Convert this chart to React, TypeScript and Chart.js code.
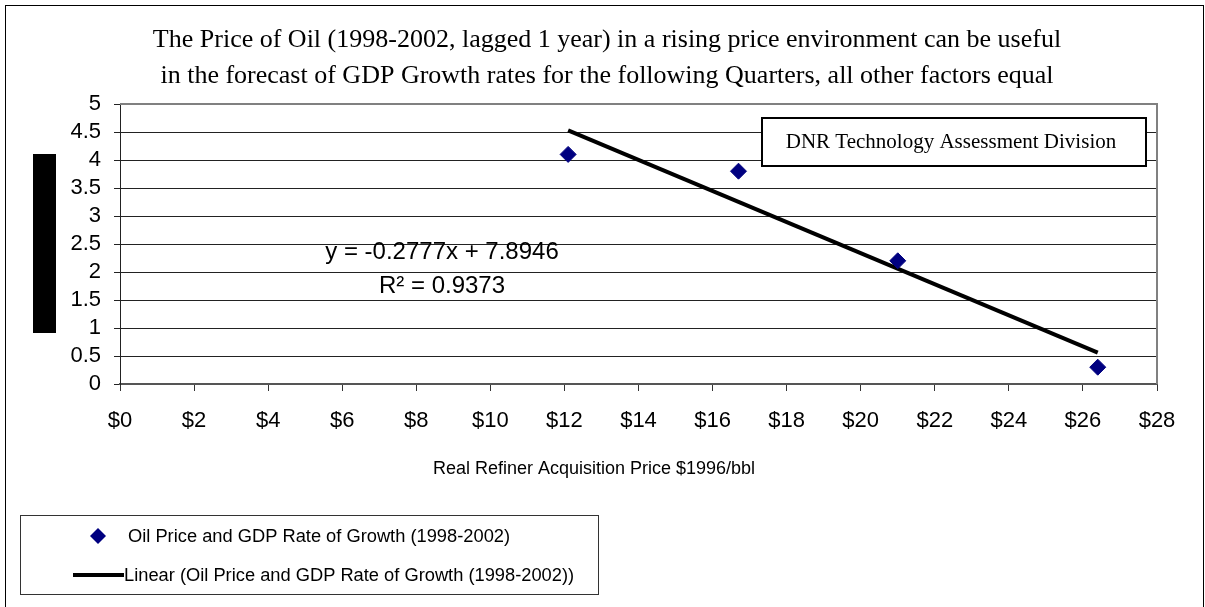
import React, { useEffect, useRef } from "react";
import { Chart, registerables } from "chart.js";

Chart.register(...registerables);

const prices = [12.1, 16.7, 21.0, 26.4];
const gdpGrowth = [4.1, 3.8, 2.2, 0.3];
const trendX = [12.1, 26.4];
const trendY = [4.53, 0.56];
const yTickLabels = ["0", "0.5", "1", "1.5", "2", "2.5", "3", "3.5", "4", "4.5", "5"];
const xTickLabels = ["$0", "$2", "$4", "$6", "$8", "$10", "$12", "$14", "$16", "$18", "$20", "$22", "$24", "$26", "$28"];
const titleLines = [
  "The Price of Oil (1998-2002, lagged 1 year) in a rising price environment can be useful",
  "in the forecast of GDP Growth rates for the following Quarters, all other factors equal",
];
const seriesLabel = "Oil Price and GDP Rate of Growth (1998-2002)";
const trendLabel = "Linear (Oil Price and GDP Rate of Growth (1998-2002))";
const equationLines = ["y = -0.2777x + 7.8946", "R\u00b2 = 0.9373"];
const xAxisTitle = "Real Refiner Acquisition Price $1996/bbl";
const noteText = "DNR Technology Assessment Division";

const SANS = "'Liberation Sans', Arial, sans-serif";
const SERIF = "'Liberation Serif', 'Times New Roman', serif";

const decorPlugin = {
  id: "decor",
  beforeDatasetsDraw(chart: any) {
    const { ctx, chartArea } = chart;
    ctx.save();
    ctx.strokeStyle = "#808080";
    ctx.lineWidth = 2;
    ctx.beginPath();
    ctx.moveTo(chartArea.left, chartArea.top);
    ctx.lineTo(chartArea.right, chartArea.top);
    ctx.lineTo(chartArea.right, chartArea.bottom);
    ctx.stroke();
    ctx.restore();
  },
  afterDraw(chart: any) {
    const { ctx } = chart;
    ctx.save();
    // outer frame
    ctx.strokeStyle = "#000";
    ctx.lineWidth = 1;
    ctx.strokeRect(5.5, 5.5, 1198, 620);
    // black bar (obscured axis title)
    ctx.fillStyle = "#000";
    ctx.fillRect(33, 154, 23, 179);
    // title
    ctx.fillStyle = "#000";
    ctx.textAlign = "center";
    ctx.textBaseline = "alphabetic";
    ctx.font = `26px ${SERIF}`;
    ctx.fillText(titleLines[0], 607, 47);
    ctx.fillText(titleLines[1], 607, 83);
    // equation
    ctx.font = `24px ${SANS}`;
    ctx.fillText(equationLines[0], 442, 259);
    ctx.fillText(equationLines[1], 442, 293);
    // x axis title
    ctx.font = `18px ${SANS}`;
    ctx.fillText(xAxisTitle, 594, 474);
    // note box
    ctx.fillStyle = "#fff";
    ctx.fillRect(762, 118, 384, 48);
    ctx.strokeStyle = "#000";
    ctx.lineWidth = 2;
    ctx.strokeRect(762, 118, 384, 48);
    ctx.fillStyle = "#000";
    ctx.font = `21px ${SERIF}`;
    ctx.fillText(noteText, 951, 148);
    // legend
    ctx.strokeStyle = "#333";
    ctx.lineWidth = 1;
    ctx.strokeRect(20.5, 515.5, 578, 79);
    ctx.fillStyle = "#000080";
    ctx.beginPath();
    ctx.moveTo(98, 528);
    ctx.lineTo(106, 536);
    ctx.lineTo(98, 544);
    ctx.lineTo(90, 536);
    ctx.closePath();
    ctx.fill();
    ctx.strokeStyle = "#000";
    ctx.lineWidth = 4;
    ctx.beginPath();
    ctx.moveTo(73, 575);
    ctx.lineTo(124, 575);
    ctx.stroke();
    ctx.fillStyle = "#000";
    ctx.textAlign = "left";
    ctx.font = `18.3px ${SANS}`;
    ctx.fillText(seriesLabel, 128, 542);
    ctx.fillText(trendLabel, 124, 581);
    ctx.restore();
  },
};

export default function App() {
  const ref = useRef<HTMLCanvasElement | null>(null);
  useEffect(() => {
    if (!ref.current) return;
    const chart = new Chart(ref.current, {
      type: "scatter",
      data: {
        datasets: [
          {
            label: seriesLabel,
            data: prices.map((p, i) => ({ x: p, y: gdpGrowth[i] })),
            pointStyle: "rectRot",
            pointRadius: 8,
            pointHoverRadius: 8,
            backgroundColor: "#000080",
            borderColor: "#000080",
            borderWidth: 1,
          },
          {
            label: trendLabel,
            data: trendX.map((x, i) => ({ x, y: trendY[i] })),
            showLine: true,
            pointRadius: 0,
            borderColor: "#000",
            borderWidth: 4,
          } as any,
        ],
      },
      plugins: [decorPlugin],
      options: {
        animation: false,
        responsive: true,
        maintainAspectRatio: false,
        layout: { padding: { top: 104, right: 48, left: 0, bottom: 0 } },
        plugins: { legend: { display: false }, tooltip: { enabled: false }, title: { display: false } },
        scales: {
          x: {
            type: "linear",
            min: 0,
            max: 28,
            afterFit: (s: any) => { s.height = 223; },
            afterBuildTicks: (s: any) => {
              s.ticks = xTickLabels.map((l) => ({ value: parseFloat(l.replace("$", "")) }));
            },
            ticks: {
              autoSkip: false,
              maxRotation: 0,
              padding: 17,
              color: "#000",
              font: { family: SANS, size: 22 },
              callback: (_v: any, i: number) => xTickLabels[i],
            },
            grid: { drawOnChartArea: false, drawTicks: true, tickLength: 7, color: "#333" },
            border: { color: "#555", width: 2 },
          },
          y: {
            type: "linear",
            min: 0,
            max: 5,
            afterFit: (s: any) => { s.width = 120; },
            afterBuildTicks: (s: any) => {
              s.ticks = yTickLabels.map((l) => ({ value: parseFloat(l) }));
            },
            ticks: {
              autoSkip: false,
              padding: 13,
              color: "#000",
              font: { family: SANS, size: 22 },
              callback: (_v: any, i: number) => yTickLabels[i],
            },
            grid: { color: "#222", lineWidth: 1, tickLength: 6 },
            border: { color: "#222", width: 1 },
          },
        },
      },
    });
    return () => chart.destroy();
  }, []);
  return (
    <div style={{ position: "fixed", left: 0, top: 0, width: 1205, height: 607, background: "#fff" }}>
      <canvas ref={ref} />
    </div>
  );
}
